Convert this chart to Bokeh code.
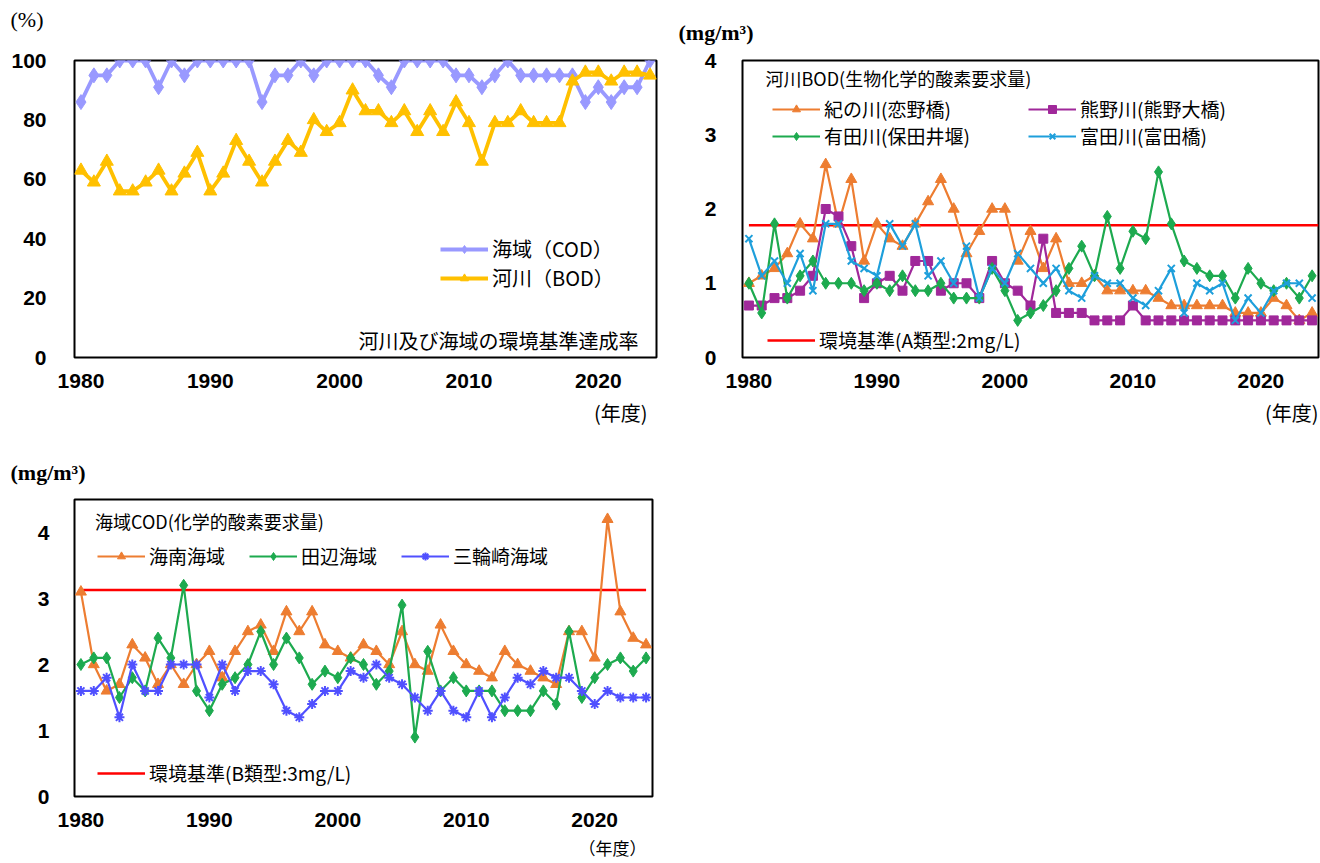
from bokeh.plotting import figure
from bokeh.models import Legend, LegendItem, Label, Range1d, Title
from bokeh.layouts import column, row
from bokeh.embed import file_html
from bokeh.resources import INLINE

# ---------------- data ----------------
years = list(range(1980, 2025))
x_ticks = [1980, 1990, 2000, 2010, 2020]

# Chart 1: achievement rate (%)
sea_cod_rate = [86, 95, 95, 100, 100, 100, 91, 100, 95, 100, 100, 100, 100, 100, 86,
                95, 95, 100, 95, 100, 100, 100, 100, 95, 91, 100, 100, 100, 100, 95,
                95, 91, 95, 100, 95, 95, 95, 95, 95, 86, 91, 86, 91, 91, 100]
river_bod_rate = [63, 59, 66, 56, 56, 59, 63, 56, 62, 69, 56, 62, 73, 66, 59,
                  66, 73, 69, 80, 76, 79, 90, 83, 83, 79, 83, 76, 83, 76, 86,
                  79, 66, 79, 79, 83, 79, 79, 79, 93, 96, 96, 93, 96, 96, 95]
rate_labels = ["海域（COD）", "河川（BOD）"]
rate_title = "河川及び海域の環境基準達成率"

# Chart 2: river BOD
kinokawa = [1.0, 1.1, 1.2, 1.4, 1.8, 1.6, 2.6, 1.8, 2.4, 1.3, 1.8, 1.6, 1.5, 1.8, 2.1,
            2.4, 2.0, 1.4, 1.7, 2.0, 2.0, 1.3, 1.7, 1.2, 1.6, 1.0, 1.0, 1.1, 0.9, 0.9,
            0.9, 0.9, 0.8, 0.7, 0.7, 0.7, 0.7, 0.7, 0.6, 0.6, 0.6, 0.8, 0.7, 0.5, 0.6]
kumano = [0.7, 0.7, 0.8, 0.8, 0.9, 1.1, 2.0, 1.9, 1.5, 0.8, 1.0, 1.1, 0.9, 1.3, 1.3,
          0.9, 1.0, 1.0, 0.8, 1.3, 1.0, 0.9, 0.7, 1.6, 0.6, 0.6, 0.6, 0.5, 0.5, 0.5,
          0.7, 0.5, 0.5, 0.5, 0.5, 0.5, 0.5, 0.5, 0.5, 0.5, 0.5, 0.5, 0.5, 0.5, 0.5]
arida = [1.0, 0.6, 1.8, 0.8, 1.1, 1.3, 1.0, 1.0, 1.0, 0.9, 1.0, 0.9, 1.1, 0.9, 0.9,
         1.0, 0.8, 0.8, 0.8, 1.2, 0.9, 0.5, 0.6, 0.7, 0.9, 1.2, 1.5, 1.1, 1.9, 1.2,
         1.7, 1.6, 2.5, 1.8, 1.3, 1.2, 1.1, 1.1, 0.8, 1.2, 1.0, 0.9, 1.0, 0.8, 1.1]
tonda = [1.6, 1.1, 1.3, 1.0, 1.4, 0.9, 1.8, 1.8, 1.3, 1.2, 1.1, 1.8, 1.5, 1.8, 1.1,
         1.3, 1.0, 1.5, 0.8, 1.2, 1.0, 1.4, 1.2, 1.0, 1.2, 0.9, 0.8, 1.1, 1.0, 1.0,
         0.8, 0.7, 0.9, 1.2, 0.6, 1.0, 0.9, 1.0, 0.5, 0.8, 0.6, 0.9, 1.0, 1.0, 0.8]
river_labels = ["紀の川(恋野橋)", "熊野川(熊野大橋)", "有田川(保田井堰)", "富田川(富田橋)"]
river_std_line = 1.78
river_std_label = "環境基準(A類型:2mg/L)"
river_title = "河川BOD(生物化学的酸素要求量)"

# Chart 3: sea COD
kainan = [3.1, 2.0, 1.6, 1.7, 2.3, 2.1, 1.7, 2.0, 1.7, 2.0, 2.2, 1.8, 2.2, 2.5, 2.6,
          2.2, 2.8, 2.5, 2.8, 2.3, 2.2, 2.1, 2.3, 2.2, 2.0, 2.5, 2.0, 1.9, 2.6, 2.2,
          2.0, 1.9, 1.8, 2.2, 2.0, 1.9, 1.8, 1.7, 2.5, 2.5, 2.1, 4.2, 2.8, 2.4, 2.3]
tanabe = [2.0, 2.1, 2.1, 1.5, 1.8, 1.6, 2.4, 2.1, 3.2, 1.6, 1.3, 1.7, 1.8, 2.0, 2.5,
          2.0, 2.4, 2.1, 1.7, 1.9, 1.8, 2.1, 2.0, 1.7, 1.9, 2.9, 0.9, 2.2, 1.6, 1.8,
          1.6, 1.6, 1.6, 1.3, 1.3, 1.3, 1.6, 1.4, 2.5, 1.5, 1.8, 2.0, 2.1, 1.9, 2.1]
miwasaki = [1.6, 1.6, 1.8, 1.2, 2.0, 1.6, 1.6, 2.0, 2.0, 2.0, 1.5, 2.0, 1.6, 1.9, 1.9,
            1.7, 1.3, 1.2, 1.4, 1.6, 1.6, 1.9, 1.8, 2.0, 1.8, 1.7, 1.5, 1.3, 1.6, 1.3,
            1.2, 1.6, 1.2, 1.5, 1.8, 1.7, 1.9, 1.8, 1.8, 1.6, 1.4, 1.6, 1.5, 1.5, 1.5]
sea_labels = ["海南海域", "田辺海域", "三輪崎海域"]
sea_std_line = 3.13
sea_std_label = "環境基準(B類型:3mg/L)"
sea_title = "海域COD(化学的酸素要求量)"

# ---------------- styling ----------------
TICK_FONT = "Liberation Sans"
CJK = "Noto Sans CJK JP"
SERIF = "Liberation Serif"


def base_fig(width, height, left, right, top, bottom, y_end, y_ticks):
    p = figure(width=width, height=height, output_backend="svg", toolbar_location=None,
               x_range=Range1d(years[0] - 0.5, years[-1] + 0.5),
               y_range=Range1d(0, y_end),
               min_border_left=left, min_border_right=right,
               min_border_top=top, min_border_bottom=bottom)
    p.outline_line_color = "black"
    p.outline_line_width = 2
    p.outline_line_alpha = 1
    p.xgrid.visible = False
    p.ygrid.visible = False
    for ax in (p.xaxis[0], p.yaxis[0]):
        ax.axis_line_color = None
        ax.major_tick_line_color = None
        ax.minor_tick_line_color = None
        ax.major_label_text_font = TICK_FONT
        ax.major_label_text_font_style = "bold"
        ax.major_label_text_font_size = "21px"
        ax.major_label_text_color = "black"
    p.xaxis.ticker = x_ticks
    p.yaxis.ticker = y_ticks
    p.xaxis.major_label_standoff = 10
    p.yaxis.major_label_standoff = 22
    p.background_fill_color = "white"
    p.border_fill_color = "white"
    return p


def unit_title(p, text, offset, standoff, font, bold):
    p.title.text = text
    p.title.align = "left"
    p.title.offset = offset
    p.title.standoff = standoff
    p.title.text_font = font
    p.title.text_font_size = "22px"
    p.title.text_font_style = "bold" if bold else "normal"
    p.title.text_color = "black"


def year_title(p, text, offset, standoff, size="20px"):
    p.add_layout(Title(text=text, align="right", offset=offset, standoff=standoff,
                       text_font=CJK, text_font_size=size, text_font_style="normal",
                       text_color="black"), "below")


def make_legend(items, loc, orientation="vertical", spacing=0, size="19px"):
    return Legend(items=items, location=loc, orientation=orientation,
                  label_text_font=CJK, label_text_font_size=size,
                  label_text_color="black",
                  glyph_width=48, glyph_height=20, label_height=20,
                  label_standoff=4, spacing=spacing, padding=0, margin=0,
                  border_line_color=None, background_fill_alpha=0)


def series(p, y, color, marker, size, lw):
    r1 = p.line(years, y, line_color=color, line_width=lw)
    r2 = p.scatter(years, y, marker=marker, size=size, fill_color=color,
                   line_color=color, line_width=2 if marker in ("x", "asterisk") else 1)
    return [r1, r2]


# ---------------- chart 1 ----------------
p1 = base_fig(674, 440, 74, 18, 60, 83, 100, [0, 20, 40, 60, 80, 100])
unit_title(p1, "(%)", -64, 0, SERIF, False)
# spacer panel between the unit text and the plot frame
p1.add_layout(Title(text=" ", text_font_size="10px", standoff=16), "above")
year_title(p1, "(年度)", 9, 10)
r_sea = series(p1, sea_cod_rate, "#9999FF", "diamond", 15, 3.8)
r_riv = series(p1, river_bod_rate, "#FFC000", "triangle", 13, 3.8)
p1.add_layout(make_legend([LegendItem(label=rate_labels[0], renderers=r_sea),
                           LegendItem(label=rate_labels[1], renderers=r_riv)],
                          (366, 65), size="20px"))
p1.add_layout(Label(x=2023.1, y=5.7, text=rate_title,
                    text_font=CJK, text_font_size="20px", text_align="right",
                    text_baseline="middle", text_color="black"))

# ---------------- chart 2 ----------------
p2 = base_fig(646, 440, 68, 2, 60, 83, 4, [0, 1, 2, 3, 4])
p2.yaxis.major_label_standoff = 20
unit_title(p2, "(mg/m³)", -64, 31, SERIF, True)
year_title(p2, "(年度)", 0, 10)
r_std2 = p2.line([years[0], years[-1] + 0.5], [river_std_line, river_std_line],
                 line_color="#FF0000", line_width=2.5)
r_kino = series(p2, kinokawa, "#ED7D31", "triangle", 11, 2.2)
r_kuma = series(p2, kumano, "#A0289A", "square", 9, 2.2)
r_ari = series(p2, arida, "#1DAA4F", "diamond", 12, 2.2)
r_ton = series(p2, tonda, "#1E9FDB", "x", 10, 2.2)
p2.add_layout(make_legend([LegendItem(label=river_labels[0], renderers=r_kino),
                           LegendItem(label=river_labels[2], renderers=r_ari)],
                          (30, 208)))
p2.add_layout(make_legend([LegendItem(label=river_labels[1], renderers=r_kuma),
                           LegendItem(label=river_labels[3], renderers=r_ton)],
                          (286, 208)))
p2.add_layout(make_legend([LegendItem(label=river_std_label, renderers=[r_std2])],
                          (25, 4)))
p2.add_layout(Label(x=1981.3, y=3.77, text=river_title, text_font=CJK,
                    text_font_size="18px", text_baseline="middle", text_color="black"))

# ---------------- chart 3 ----------------
p3 = base_fig(688, 422, 74, 36, 59, 65, 4.5, [0, 1, 2, 3, 4])
p3.yaxis.major_label_standoff = 19
unit_title(p3, "(mg/m³)", -64, 29, SERIF, True)
year_title(p3, "（年度）", 6, 6, size="17px")
r_std3 = p3.line([years[0], years[-1]], [sea_std_line, sea_std_line],
                 line_color="#FF0000", line_width=2.5)
r_kai = series(p3, kainan, "#ED7D31", "triangle", 11, 2.2)
r_tan = series(p3, tanabe, "#1DAA4F", "diamond", 12, 2.2)
r_miw = series(p3, miwasaki, "#5050FF", "asterisk", 10, 2.2)
p3.add_layout(make_legend([LegendItem(label=sea_labels[0], renderers=r_kai),
                           LegendItem(label=sea_labels[1], renderers=r_tan),
                           LegendItem(label=sea_labels[2], renderers=r_miw)],
                          (23, 227), orientation="horizontal", spacing=24))
p3.add_layout(make_legend([LegendItem(label=sea_std_label, renderers=[r_std3])],
                          (23, 10)))
p3.add_layout(Label(x=1981.1, y=4.17, text=sea_title, text_font=CJK,
                    text_font_size="18px", text_baseline="middle", text_color="black"))

layout = column(row(p1, p2), p3)
open("out.html", "w").write(file_html(layout, INLINE))
